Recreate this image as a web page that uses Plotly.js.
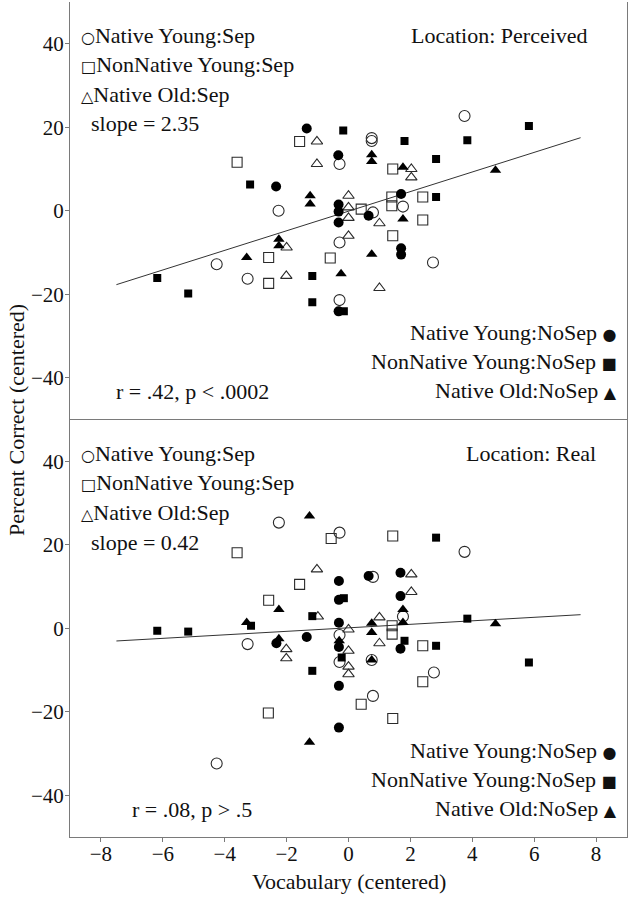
<!DOCTYPE html>
<html>
<head>
<meta charset="utf-8">
<script src="https://cdn.plot.ly/plotly-3.0.1.min.js"></script>
<style>html,body{margin:0;padding:0;background:#fff;}#chart{width:630px;height:899px;}</style>
</head>
<body>
<div id="chart"></div>
<script>
// ---------- Data: Location Perceived (top panel) ----------
const percNYSepX = [-2.26, -4.26, -3.26, -0.29, -0.29, -0.29, 3.75, 0.75, 0.75, 0.79, 1.76, 2.73];
const percNYSepY = [0.0, -12.8, -16.3, 11.2, -7.6, -21.4, 22.7, 17.4, 16.7, -0.4, 1.0, -12.4];
const percNNSepX = [-1.58, -3.6, -2.58, -2.58, -0.59, 0.41, 1.43, 1.40, 1.40, 2.40, 2.40, 1.43];
const percNNSepY = [16.6, 11.6, -11.2, -17.4, -11.3, 0.4, 10.0, 3.3, 1.2, 3.3, -2.2, -6.0];
const percNOSepX = [-1.02, -1.02, -2.0, -2.01, 0.0, 0.0, 0.0, 1.0, 2.03, 2.03, 0.0, 1.0];
const percNOSepY = [16.6, 11.2, -8.8, -15.6, 3.6, 0.8, -1.7, -3.0, 10.0, 8.0, -6.0, -18.5];
const percNYNoX = [-1.35, -2.34, -0.33, -0.32, -0.32, -0.32, 0.65, 1.70, 1.70, 1.70, -0.32];
const percNYNoY = [19.7, 5.8, 13.3, 1.5, -0.2, -2.8, -1.2, 4.0, -9.0, -10.5, -24.1];
const percNNNoX = [-0.17, -3.18, -6.18, -5.18, -1.17, -1.17, 1.81, 3.84, 2.83, 2.83, -0.15, 5.83];
const percNNNoY = [19.2, 6.3, -16.1, -19.8, -15.6, -21.9, 16.7, 16.9, 12.4, 3.3, -24.1, 20.3];
const percNONoX = [-1.24, -1.24, -2.25, -2.25, -3.29, -0.24, 0.75, 0.75, 1.76, 1.76, 0.75, 4.75];
const percNONoY = [3.6, 1.6, -6.8, -8.4, -11.2, -15.1, 13.4, 11.8, 10.4, -2.0, -10.4, 9.7];
const percFitX = [-7.5, 7.5];
const percFitY = [-17.7, 17.5];

// ---------- Data: Location Real (bottom panel) ----------
const realNYSepX = [-2.25, -0.29, 3.75, 0.79, 1.76, -3.26, -0.29, -0.29, 0.75, 2.76, 0.79, -4.26];
const realNYSepY = [25.3, 22.9, 18.3, 12.3, 2.8, -3.8, -1.6, -8.1, -7.6, -10.6, -16.2, -32.4];
const realNNSepX = [-3.6, -0.56, 1.43, -1.58, -2.58, 1.41, 1.41, 2.40, 2.40, 0.41, 1.43, -2.59];
const realNNSepY = [18.1, 21.5, 22.1, 10.5, 6.7, 0.6, -1.4, -4.2, -12.8, -18.2, -21.6, -20.3];
const realNOSepX = [-1.02, -0.99, -2.01, -2.01, 2.03, 2.03, 1.0, 1.0, 0.0, 0.0, 0.0, 0.0];
const realNOSepY = [14.1, 2.8, -5.0, -7.2, 12.9, 8.7, 2.6, -3.6, -0.3, -5.4, -9.2, -11.0];
const realNYNoX = [-2.33, -1.35, -0.31, -0.31, -0.31, -0.31, -0.31, -0.31, 0.65, 1.68, 1.68, 1.68];
const realNYNoY = [-3.6, -2.1, 11.3, 6.8, 1.3, -4.5, -13.8, -23.8, 12.5, 13.3, 7.7, -4.9];
const realNNNoX = [-6.18, -5.18, -3.15, -1.17, -1.17, -0.15, -0.22, 1.81, 2.83, 2.83, 3.84, 5.83];
const realNNNoY = [-0.6, -0.8, 0.6, 2.9, -10.2, 7.2, -7.0, -3.0, -4.2, 21.7, 2.3, -8.2];
const realNONoX = [-1.26, -2.25, -3.29, -2.25, -1.26, -0.3, 0.75, 0.75, 0.75, 1.76, 1.76, 4.75];
const realNONoY = [26.9, 4.5, 1.4, -2.5, -27.3, -3.0, 1.2, -1.0, -7.6, 4.5, 1.4, 1.1];
const realFitX = [-7.5, 7.5];
const realFitY = [-3.05, 3.25];

// ---------- Texts ----------
const groupNames = ['Native Young', 'NonNative Young', 'Native Old'];
const panelTitles = ['Location: Perceived', 'Location: Real'];
const slopeTexts = ['slope = 2.35', 'slope = 0.42'];
const statTexts = ['r = .42, p < .0002', 'r = .08, p > .5'];
const xTickVals = [-8, -6, -4, -2, 0, 2, 4, 6, 8];
const yTickVals = [-40, -20, 0, 20, 40];

// ---------- Styling ----------
const FONT = 'Liberation Serif';
const OPEN_COL = '#2a2a2a';
const FRAME = '#7a7a7a';
const TXT = 22;

function openTrace(x, y, sym, size, ya) {
  return {x: x, y: y, xaxis: 'x', yaxis: ya, type: 'scatter', mode: 'markers', hoverinfo: 'skip',
    marker: {symbol: sym + '-open', size: size, color: OPEN_COL, line: {width: 1.1, color: OPEN_COL}}};
}
function filledTrace(x, y, sym, size, ya) {
  return {x: x, y: y, xaxis: 'x', yaxis: ya, type: 'scatter', mode: 'markers', hoverinfo: 'skip',
    marker: {symbol: sym, size: size, color: '#000', line: {width: 0}}};
}
function fitTrace(x, y, ya) {
  return {x: x, y: y, xaxis: 'x', yaxis: ya, type: 'scatter', mode: 'lines', hoverinfo: 'skip',
    line: {color: '#333', width: 1}};
}

const traces = [
  fitTrace(percFitX, percFitY, 'y'),
  openTrace(percNYSepX, percNYSepY, 'circle', 11, 'y'),
  openTrace(percNNSepX, percNNSepY, 'square', 10, 'y'),
  openTrace(percNOSepX, percNOSepY, 'triangle-up', 10, 'y'),
  filledTrace(percNYNoX, percNYNoY, 'circle', 10, 'y'),
  filledTrace(percNNNoX, percNNNoY, 'square', 8, 'y'),
  filledTrace(percNONoX, percNONoY, 'triangle-up', 10, 'y'),
  fitTrace(realFitX, realFitY, 'y2'),
  openTrace(realNYSepX, realNYSepY, 'circle', 11, 'y2'),
  openTrace(realNNSepX, realNNSepY, 'square', 10, 'y2'),
  openTrace(realNOSepX, realNOSepY, 'triangle-up', 10, 'y2'),
  filledTrace(realNYNoX, realNYNoY, 'circle', 10, 'y2'),
  filledTrace(realNNNoX, realNNNoY, 'square', 8, 'y2'),
  filledTrace(realNONoX, realNONoY, 'triangle-up', 10, 'y2')
];

// plot area in pixels
const L = 70, R = 627, T = 2, B = 837;
function px2x(px) { return (px - L) / (R - L); }
function py2y(py) { return (B - py) / (B - T); }

const annotations = [];
function ann(text, px, py, xanchor, size) {
  annotations.push({text: text, xref: 'paper', yref: 'paper', x: px2x(px), y: py2y(py),
    xanchor: xanchor, yanchor: 'middle', showarrow: false,
    font: {family: FONT, size: size || TXT, color: '#111'}});
}
const symOpen = ['\u25CB', '\u25A1', '\u25B3'];
const symFilled = ['\u25CF', '\u25A0', '\u25B2'];
function sym(s) { return '<span style="font-family:DejaVu Sans;font-size:16px">' + s + '</span>'; }

[0, 1].forEach(function (p) {
  const top = p === 0 ? T : 420;
  ann(panelTitles[p], p === 0 ? 590 : 598, top + 33, 'right');
  for (let i = 0; i < 3; i++) {
    ann(sym(symOpen[i]) + groupNames[i] + ':Sep', 79, top + 33 + i * 29.7, 'left');
    ann(groupNames[i] + ':NoSep ' + sym(symFilled[i]), 619, top + 330 + i * 29.3, 'right');
  }
  ann(slopeTexts[p], 89, top + 122, 'left');
  ann(statTexts[p], 192, top + 389, 'center');
});

// axis titles
annotations.push({text: 'Vocabulary (centered)', xref: 'paper', yref: 'paper', x: 0.5, y: py2y(881),
  xanchor: 'center', yanchor: 'middle', showarrow: false, font: {family: FONT, size: TXT, color: '#111'}});
annotations.push({text: 'Percent Correct (centered)', xref: 'paper', yref: 'paper', x: px2x(16), y: py2y(420),
  xanchor: 'center', yanchor: 'middle', textangle: -90, showarrow: false, font: {family: FONT, size: TXT, color: '#111'}});

const yAxisBase = {
  range: [-50, 50], tickvals: yTickVals, ticks: 'outside', ticklen: 4, tickcolor: FRAME, tickwidth: 1,
  showline: true, linecolor: FRAME, linewidth: 1, mirror: true, showgrid: false, zeroline: false,
  ticklabelstandoff: -3,
  tickfont: {family: FONT, size: 21, color: '#111'}, fixedrange: true
};

const layout = {
  width: 630, height: 899,
  margin: {l: L, r: 630 - R, t: T, b: 899 - B},
  paper_bgcolor: '#fff', plot_bgcolor: '#fff',
  showlegend: false,
  font: {family: FONT, size: 21, color: '#111'},
  xaxis: {
    range: [-9, 9], anchor: 'y2', tickvals: xTickVals, ticks: 'outside', ticklen: 4, tickcolor: FRAME, tickwidth: 1,
    showline: true, linecolor: FRAME, linewidth: 1, mirror: true, showgrid: false, zeroline: false,
    ticklabelstandoff: -6,
    tickfont: {family: FONT, size: 21, color: '#111'}, fixedrange: true
  },
  xaxis2: {
    range: [-9, 9], anchor: 'y', matches: 'x', showticklabels: false, ticks: '',
    showline: true, linecolor: FRAME, linewidth: 1, mirror: true, showgrid: false, zeroline: false
  },
  yaxis: Object.assign({}, yAxisBase, {domain: [0.5, 1], anchor: 'x'}),
  yaxis2: Object.assign({}, yAxisBase, {domain: [0, 0.5], anchor: 'x'}),
  annotations: annotations
};

Plotly.newPlot('chart', traces, layout, {staticPlot: true, displayModeBar: false});
</script>
</body>
</html>
